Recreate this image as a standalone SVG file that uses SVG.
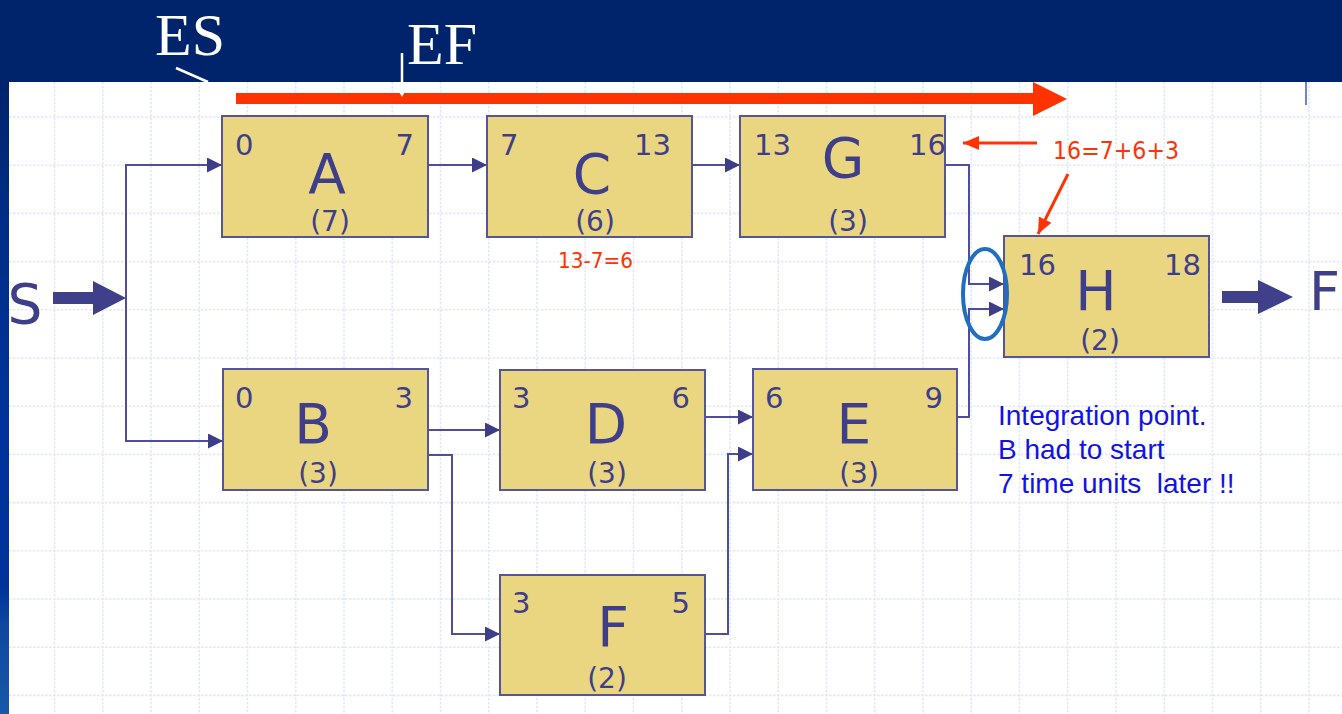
<svg xmlns="http://www.w3.org/2000/svg" width="1342" height="714" viewBox="0 0 1342 714">
<defs>
<linearGradient id="strip" x1="0" y1="0" x2="0" y2="1">
<stop offset="0" stop-color="#00246B"/>
<stop offset="0.2" stop-color="#002C84"/>
<stop offset="0.5" stop-color="#003399"/>
<stop offset="0.8" stop-color="#003399"/>
<stop offset="0.86" stop-color="#0E48A0"/>
<stop offset="1" stop-color="#1858A8"/>
</linearGradient>
<marker id="ah" markerUnits="userSpaceOnUse" markerWidth="15" markerHeight="15" viewBox="0 0 15 15" refX="15" refY="7.5" orient="auto">
<path d="M0,0 L15,7.5 L0,15 Z" fill="#3E3E88"/>
</marker>
<marker id="rh" markerUnits="userSpaceOnUse" markerWidth="16" markerHeight="16" viewBox="0 0 16 16" refX="16" refY="8" orient="auto">
<path d="M0,1 L16,8 L0,15 Z" fill="#FF3300"/>
</marker>
</defs>
<style>
.box{fill:#EAD680;stroke:#55559A;stroke-width:2}
.conn{fill:none;stroke:#4E4E9A;stroke-width:2;marker-end:url(#ah)}
.t{font-family:"DejaVu Sans",Verdana,sans-serif;fill:#3E3E8A}
.num{font-size:29px}
.big{font-size:55px;text-anchor:middle}
.dur{font-size:28px;text-anchor:middle}
.grid{stroke:#E1E8FA;stroke-width:1.6;stroke-dasharray:2.5 1.5;fill:none}
.red{font-family:"DejaVu Sans",Verdana,sans-serif;fill:#FF3300}
.note{font-family:"Liberation Sans",Arial,sans-serif;font-size:28px;fill:#1212E6}
.title{font-family:"Liberation Serif","Times New Roman",serif;font-size:60px;fill:#FFFFFF}
</style>
<rect x="0" y="0" width="1342" height="714" fill="#00246B"/>
<rect x="0" y="82" width="9" height="632" fill="url(#strip)"/>
<rect x="9" y="82" width="1333" height="632" fill="#FFFFFF"/>
<g id="grid">
<path class="grid" d="M54.5,82V714M102.75,82V714M151,82V714M199.25,82V714M247.5,82V714M295.75,82V714M344,82V714M392.25,82V714M440.5,82V714M488.75,82V714M537,82V714M585.25,82V714M633.5,82V714M681.75,82V714M730,82V714M778.25,82V714M826.5,82V714M874.75,82V714M923,82V714M971.25,82V714M1019.5,82V714M1067.75,82V714M1116,82V714M1164.25,82V714M1212.5,82V714M1260.75,82V714M1309,82V714"/>
<path class="grid" d="M9,117H1342M9,165.2H1342M9,213.4H1342M9,261.6H1342M9,309.8H1342M9,358H1342M9,406.2H1342M9,454.4H1342M9,502.6H1342M9,550.8H1342M9,599H1342M9,647.2H1342M9,695.4H1342"/>
</g>
<line x1="1306" y1="82" x2="1306" y2="105" stroke="#3A5CC0" stroke-width="1.5"/>
<g id="header">
<text class="title" x="155" y="55">ES</text>
<text class="title" x="407" y="64">EF</text>
<line x1="176" y1="68" x2="208" y2="82" stroke="#FFFFFF" stroke-width="2.5"/>
</g>
<g id="critical-arrow">
<polygon points="236,93 1033,93 1033,82 1067,99 1033,116 1033,104 236,104" fill="#FF3300"/>
</g>
<g id="ef-pointer">
<line x1="402" y1="53" x2="402" y2="92" stroke="#FFFFFF" stroke-width="2.5"/>
<polygon points="398,90 406,90 402,97" fill="#FFFFFF"/>
</g>
<g id="connectors">
<path class="conn" d="M126,441 V165 H222"/>
<path class="conn" d="M126,298 V441 H223"/>
<path class="conn" d="M428,165 H487"/>
<path class="conn" d="M692,165 H740"/>
<path class="conn" d="M945,165 H969 V284 H1004"/>
<path class="conn" d="M957,417 H969 V309 H1004"/>
<path class="conn" d="M428,430 H500"/>
<path class="conn" d="M428,455 H452 V634 H500"/>
<path class="conn" d="M705,417 H753"/>
<path class="conn" d="M705,634 H728 V454 H753"/>
<polygon points="53,292 93,292 93,281 126,298 93,315 93,304 53,304" fill="#40408A"/>
<polygon points="1222,291 1258,291 1258,280 1293,297 1258,314 1258,303 1222,303" fill="#40408A"/>
</g>
<g id="node-S"><text class="t big" x="25" y="323">S</text></g>
<g id="node-F-end"><text class="t" x="1309" y="310" font-size="54">F</text></g>
<g id="node-A">
<rect class="box" x="222" y="116" width="206" height="121"/>
<text class="t num" x="235" y="155">0</text>
<text class="t num" x="414" y="155" text-anchor="end">7</text>
<text class="t big" x="327" y="193">A</text>
<text class="t dur" x="330" y="231">(7)</text>
</g>
<g id="node-C">
<rect class="box" x="487" y="116" width="205" height="121"/>
<text class="t num" x="500" y="155">7</text>
<text class="t num" x="671" y="155" text-anchor="end">13</text>
<text class="t big" x="592" y="193">C</text>
<text class="t dur" x="595" y="231">(6)</text>
</g>
<g id="node-G">
<rect class="box" x="740" y="116" width="205" height="121"/>
<text class="t num" x="754" y="155">13</text>
<text class="t num" x="946" y="155" text-anchor="end">16</text>
<text class="t big" x="843" y="177">G</text>
<text class="t dur" x="848" y="231">(3)</text>
</g>
<g id="node-H">
<rect class="box" x="1004" y="236" width="205" height="121"/>
<text class="t num" x="1019" y="275">16</text>
<text class="t num" x="1201" y="275" text-anchor="end">18</text>
<text class="t big" x="1096" y="310">H</text>
<text class="t dur" x="1100" y="350">(2)</text>
</g>
<g id="node-B">
<rect class="box" x="223" y="369" width="205" height="121"/>
<text class="t num" x="235" y="408">0</text>
<text class="t num" x="413" y="408" text-anchor="end">3</text>
<text class="t big" x="313" y="443">B</text>
<text class="t dur" x="318" y="483">(3)</text>
</g>
<g id="node-D">
<rect class="box" x="500" y="370" width="205" height="120"/>
<text class="t num" x="512" y="408">3</text>
<text class="t num" x="690" y="408" text-anchor="end">6</text>
<text class="t big" x="606" y="443">D</text>
<text class="t dur" x="607" y="483">(3)</text>
</g>
<g id="node-E">
<rect class="box" x="753" y="369" width="204" height="121"/>
<text class="t num" x="765" y="408">6</text>
<text class="t num" x="943" y="408" text-anchor="end">9</text>
<text class="t big" x="854" y="443">E</text>
<text class="t dur" x="859" y="483">(3)</text>
</g>
<g id="node-F">
<rect class="box" x="500" y="575" width="205" height="120"/>
<text class="t num" x="512" y="613">3</text>
<text class="t num" x="690" y="613" text-anchor="end">5</text>
<text class="t big" x="613" y="646">F</text>
<text class="t dur" x="607" y="688">(2)</text>
</g>
<g id="annotations">
<ellipse cx="985" cy="294" rx="22" ry="45" fill="none" stroke="#1F6EBF" stroke-width="4"/>
<line x1="1037" y1="143" x2="963" y2="143" stroke="#FF3300" stroke-width="3" marker-end="url(#rh)"/>
<line x1="1068" y1="174" x2="1038" y2="234" stroke="#FF3300" stroke-width="3" marker-end="url(#rh)"/>
<text class="red" x="1053" y="159" font-size="25" textLength="126" lengthAdjust="spacingAndGlyphs">16=7+6+3</text>
<text class="red" x="558" y="268" font-size="21" textLength="75" lengthAdjust="spacingAndGlyphs">13-7=6</text>
<text class="note" x="998" y="425">Integration point.</text>
<text class="note" x="998" y="459">B had to start</text>
<text class="note" x="998" y="493" xml:space="preserve">7 time units  later !!</text>
</g>
</svg>
